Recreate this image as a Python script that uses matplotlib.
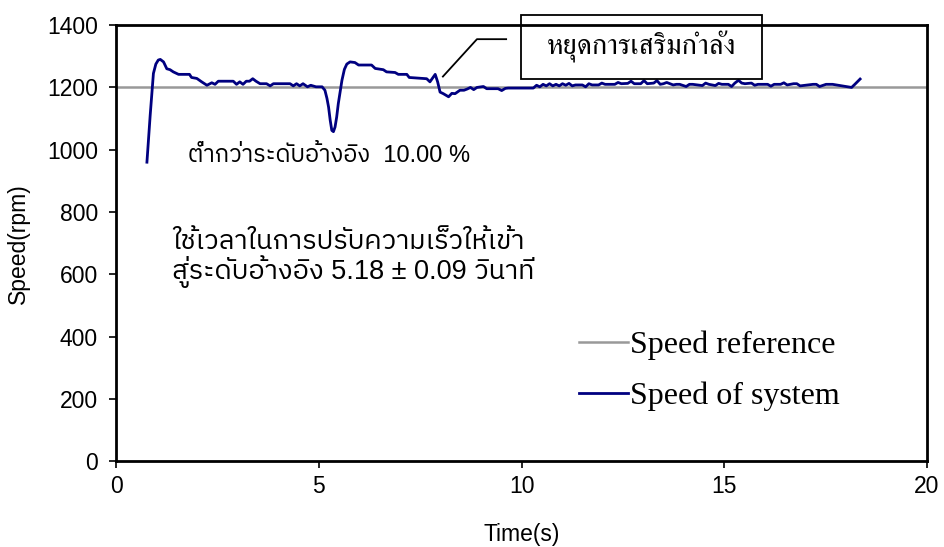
import matplotlib
matplotlib.use("Agg")
import matplotlib.pyplot as plt
from matplotlib import font_manager, ft2font
from matplotlib.patches import Rectangle

# speed response of the motor (time in s, speed in rpm)
time_s = [0.76, 0.84, 0.92, 0.98, 1.04, 1.09, 1.17, 1.25, 1.33, 1.41, 1.54, 1.81, 1.86,
          1.99, 2.11, 2.24, 2.36, 2.44, 2.52, 2.89, 2.97, 3.05, 3.13, 3.21, 3.29, 3.37,
          3.45, 3.55, 3.71, 3.80, 3.88, 4.29, 4.37, 4.45, 4.53, 4.61, 4.72, 4.80, 4.93,
          5.08, 5.15, 5.20, 5.24, 5.28, 5.32, 5.36, 5.40, 5.44, 5.48, 5.57, 5.63, 5.69,
          5.77, 5.89, 5.98, 6.30, 6.39, 6.59, 6.67, 6.88, 6.96, 7.17, 7.23, 7.66, 7.74,
          7.87, 7.93, 7.99, 8.07, 8.20, 8.28, 8.36, 8.48, 8.58, 8.66, 8.74, 8.82, 8.90,
          9.06, 9.14, 9.30, 9.42, 9.51, 9.60, 9.67, 10.29, 10.37, 10.45, 10.53, 10.61,
          10.69, 10.77, 10.85, 10.93, 11.01, 11.09, 11.17, 11.25, 11.33, 11.50, 11.58,
          11.66, 11.74, 11.90, 11.98, 12.06, 12.30, 12.38, 12.46, 12.62, 12.70, 12.78,
          12.94, 13.02, 13.10, 13.26, 13.34, 13.42, 13.50, 13.58, 13.74, 13.82, 13.90,
          14.06, 14.14, 14.22, 14.46, 14.54, 14.62, 14.78, 14.86, 14.94, 15.10, 15.18,
          15.26, 15.35, 15.43, 15.51, 15.67, 15.75, 15.83, 16.07, 16.15, 16.23, 16.39,
          16.47, 16.55, 16.71, 16.79, 16.87, 17.19, 17.27, 17.35, 17.51, 17.59, 17.67,
          18.14, 18.22, 18.35]
speed_rpm = [960, 1110, 1245, 1275, 1288, 1290, 1282, 1260, 1257, 1250, 1242, 1242, 1232,
             1229, 1218, 1207, 1215, 1210, 1220, 1220, 1210, 1218, 1210, 1220, 1220, 1228,
             1220, 1212, 1212, 1205, 1212, 1212, 1205, 1212, 1205, 1212, 1202, 1207, 1202,
             1202, 1191, 1165, 1137, 1095, 1062, 1058, 1073, 1105, 1148, 1223, 1258, 1275,
             1282, 1280, 1272, 1272, 1261, 1257, 1250, 1248, 1242, 1242, 1232, 1228, 1218,
             1242, 1218, 1185, 1180, 1170, 1181, 1180, 1191, 1191, 1195, 1200, 1193, 1200,
             1203, 1196, 1196, 1196, 1190, 1197, 1198, 1198, 1207, 1202, 1210, 1205, 1212,
             1205, 1210, 1205, 1212, 1207, 1213, 1205, 1208, 1208, 1202, 1212, 1208, 1208,
             1214, 1210, 1210, 1216, 1212, 1213, 1220, 1212, 1212, 1222, 1212, 1214, 1222,
             1210, 1212, 1216, 1208, 1210, 1210, 1203, 1210, 1210, 1206, 1214, 1210, 1206,
             1213, 1210, 1210, 1203, 1214, 1223, 1214, 1212, 1214, 1207, 1210, 1210, 1204,
             1210, 1210, 1215, 1208, 1212, 1212, 1205, 1210, 1210, 1203, 1210, 1210, 1210,
             1200, 1210, 1227]
speed_ref = 1200

x_ticks = [0, 5, 10, 15, 20]
y_ticks = [0, 200, 400, 600, 800, 1000, 1200, 1400]


def find_thai_font(prefer):
    # look for an installed face that can draw Thai characters
    found = []
    for f in font_manager.fontManager.ttflist:
        try:
            if ord("ก") in ft2font.FT2Font(f.fname).get_charmap():
                found.append(f.name)
        except Exception:
            pass
    found = sorted(set(found))
    for name in found:
        if prefer in name:
            return name
    return found[0] if found else "DejaVu Sans"


thai_sans = find_thai_font("Sans")
thai_serif = find_thai_font("Serif")
sans = ["Liberation Sans", thai_sans, "DejaVu Sans"]
serif = ["Liberation Serif", thai_serif, "DejaVu Serif"]

plt.rcParams["font.family"] = sans

fig = plt.figure(figsize=(9.44, 5.47), dpi=100)
ax = fig.add_axes([0.123, 0.157, 0.859, 0.797])

ax.axhline(speed_ref, color="#999999", lw=1.8, label="Speed reference", zorder=2)
ax.plot(time_s, speed_rpm, color="#000080", lw=2.0, label="Speed of system", zorder=3)

ax.set_xlim(0, 20)
ax.set_ylim(0, 1400)
ax.set_xticks(x_ticks)
ax.set_yticks(y_ticks)
ax.tick_params(labelsize=16.5, length=5, width=1.2, direction="out")
ax.tick_params(axis="x", pad=5)
ax.tick_params(axis="y", pad=8)
for s in ax.spines.values():
    s.set_linewidth(2)
ax.set_xlabel("Time(s)", fontsize=16.5, labelpad=18)
ax.set_ylabel("Speed(rpm)", fontsize=16.5, labelpad=12)

ax.text(1.78, 980, "ต่ำกว่าระดับอ้างอิง  10.00 %", fontsize=17, va="center", family=sans)
ax.text(1.38, 703, "ใช้เวลาในการปรับความเร็วให้เข้า", fontsize=19.5, va="center", family=sans)
ax.text(1.38, 610, "สู่ระดับอ้างอิง 5.18 ± 0.09 วินาที", fontsize=19.5, va="center", family=sans)

# callout marking where the boost stops
ax.plot([8.06, 8.90, 9.62], [1235, 1355, 1355], color="black", lw=1.3, clip_on=False)
ax.add_patch(Rectangle((9.99, 1226), 5.94, 207, fill=False, ec="black", lw=1.3,
                       clip_on=False, zorder=5))
ax.text(12.96, 1330, "หยุดการเสริมกำลัง", fontsize=20.5, ha="center", va="center",
        family=serif)

leg = ax.legend(loc="upper left", bbox_to_anchor=(0.535, 0.366), frameon=False,
                handlelength=1.55, handletextpad=0.05, labelspacing=0.68,
                prop={"family": ["Liberation Serif"], "size": 23})

fig.savefig("out.png", dpi=100)
